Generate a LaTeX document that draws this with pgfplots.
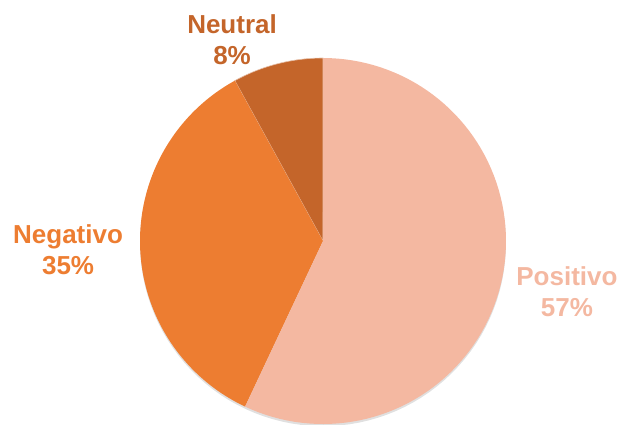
\documentclass[border=0pt]{standalone}
\usepackage{pgfplots}
\pgfplotsset{compat=1.18}
\usepackage{pgfplotstable}
\usepackage{fontspec}
\setmainfont{Liberation Sans}

\definecolor{cNeu}{HTML}{C4652A}
\definecolor{cNeg}{HTML}{ED7D31}
\definecolor{cPos}{HTML}{F4B8A1}

% share of each answer, in percent
\pgfplotstableread{
label    value
Neutral  8
Negativo 35
Positivo 57
}\piedata

\begin{document}
\begin{tikzpicture}
\pgfplotstablegetelem{0}{value}\of\piedata \let\vNeu\pgfplotsretval
\pgfplotstablegetelem{1}{value}\of\piedata \let\vNeg\pgfplotsretval
\pgfplotstablegetelem{2}{value}\of\piedata \let\vPos\pgfplotsretval
\pgfmathsetmacro\aA{90}
\pgfmathsetmacro\aB{\aA+3.6*\vNeu}
\pgfmathsetmacro\aC{\aB+3.6*\vNeg}
\pgfmathsetmacro\aD{\aC+3.6*\vPos}
\begin{axis}[
  hide axis,
  x=183pt, y=183pt,
  xmin=-1.765, xmax=1.6175,
  ymin=-1, ymax=1.317,
  clip=false,
  samples=90,
]
\coordinate (bl) at (axis cs:-1.765,-1);
\coordinate (tr) at (axis cs:1.6175,1.317);
% faint shadow under the pie
\addplot[fill=black!12, draw=none, domain=0:360, samples=120] ({1.0*cos(x)},{-0.012+1.0*sin(x)});
\addplot[fill=cNeu, draw=white!60!cNeu, line width=0.6pt, domain=\aA:\aB] ({cos(x)},{sin(x)}) -- (axis cs:0,0) -- cycle;
\addplot[fill=cNeg, draw=none, domain=\aB:\aC] ({cos(x)},{sin(x)}) -- (axis cs:0,0) -- cycle;
\addplot[fill=cPos, draw=none, domain=\aC:\aD] ({cos(x)},{sin(x)}) -- (axis cs:0,0) -- cycle;
\node[text=cNeu, font=\fontsize{26}{31}\selectfont\bfseries, align=center] at (axis cs:-0.497,1.098) {Neutral\\8\%};
\node[text=cNeg, font=\fontsize{26}{31}\selectfont\bfseries, align=center] at (axis cs:-1.393,-0.049) {Negativo\\35\%};
\node[text=cPos, font=\fontsize{26}{31}\selectfont\bfseries, align=center] at (axis cs:1.333,-0.279) {Positivo\\57\%};
\end{axis}
\pgfresetboundingbox
\path[use as bounding box] (bl) rectangle (tr);
\end{tikzpicture}
\end{document}
